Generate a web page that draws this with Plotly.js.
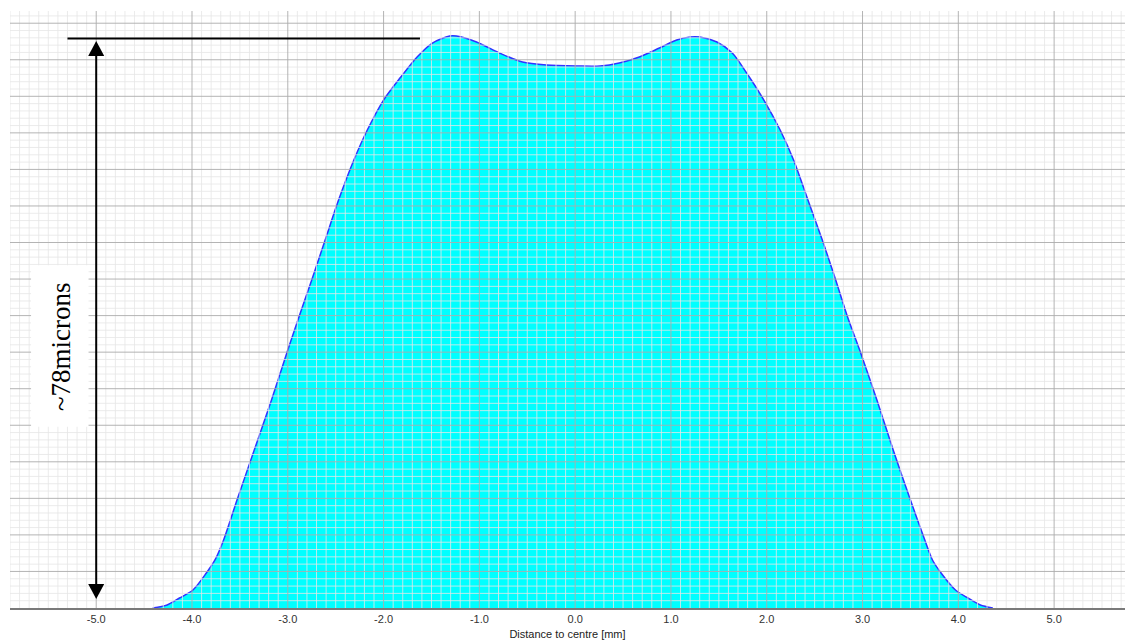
<!DOCTYPE html>
<html>
<head>
<meta charset="utf-8">
<script src="https://cdn.plot.ly/plotly-3.0.1.min.js"></script>
<style>html,body{margin:0;padding:0;background:#fff;}#chart{width:1125px;height:642px;}</style>
</head>
<body>
<div id="chart"></div>
<script>
// Profile data: distance to centre [mm] vs height [microns]
const distance = [-4.41,-4.26,-4.13,-3.99,-3.85,-3.76,-3.67,-3.53,-3.35,-3.17,
  -3.00,-2.88,-2.75,-2.61,-2.47,-2.31,-2.17,-2.00,-1.82,-1.65,
  -1.49,-1.31,-1.24,-1.03,-0.79,-0.55,-0.30,0.02,0.26,0.46,
  0.67,0.88,1.06,1.20,1.30,1.48,1.64,1.79,1.97,2.14,
  2.28,2.43,2.58,2.72,2.84,2.97,3.15,3.32,3.50,3.65,
  3.73,3.82,3.97,4.10,4.23,4.36];
const height = [0,0.41,1.37,2.46,4.79,6.57,9.30,14.77,21.61,28.45,
  35.29,39.95,44.87,50.34,55.81,61.29,65.39,69.49,72.64,75.38,
  77.29,78.25,78.25,77.43,75.92,74.69,74.28,74.15,74.15,74.56,
  75.38,76.61,77.70,78.11,78.11,77.43,75.92,73.19,69.49,65.39,
  61.29,55.81,50.34,44.87,39.95,35.29,28.45,21.61,14.77,9.30,
  6.57,4.79,2.46,1.37,0.41,0];
const tickValues = [-5,-4,-3,-2,-1,0,1,2,3,4,5];
const tickLabels = ["-5.0","-4.0","-3.0","-2.0","-1.0","0.0","1.0","2.0","3.0","4.0","5.0"];
const xTitle = "Distance to centre [mm]";
const heightLabel = "~78microns";

const xMin = -5.9, xMax = 5.74, yMax = 81.67;

// grid drawn above the filled profile, built from axis steps
let minorV = '', majorV = '', minorH = '', majorH = '';
for (let i = -59; i <= 57; i++) {
  const x = (i / 10).toFixed(1);
  if (i % 10 === 0) majorV += `M${x},0L${x},${yMax}`;
  else minorV += `M${x},0L${x},${yMax}`;
}
for (let j = 1; j <= 81; j++) {
  if (j % 5 === 0) majorH += `M${xMin},${j}L${xMax},${j}`;
  else minorH += `M${xMin},${j}L${xMax},${j}`;
}
const minorCol = 'rgba(230,230,230,0.8)';
const majorCol = 'rgba(172,172,172,0.9)';
const gridShape = (p, c) => ({type:'path', xref:'x', yref:'y', path:p, layer:'above', line:{color:c, width:1}});

const peak = 77.9, arrowX = -5.0, topTip = 77.56, botTip = 1.23;

const shapes = [
  gridShape(minorV, minorCol), gridShape(minorH, minorCol),
  gridShape(majorV, majorCol), gridShape(majorH, majorCol),
  {type:'line', xref:'x', yref:'y', x0:-5.30, x1:-1.62, y0:peak, y1:peak, layer:'above', line:{color:'#000', width:2}},
  {type:'line', xref:'x', yref:'y', x0:arrowX, x1:arrowX, y0:botTip+1, y1:topTip-1, layer:'above', line:{color:'#000', width:2}},
  {type:'path', xref:'x', yref:'y', xsizemode:'pixel', ysizemode:'pixel', xanchor:arrowX, yanchor:topTip,
   path:'M0,0L-8,-15L8,-15Z', fillcolor:'#000', line:{width:0}, layer:'above'},
  {type:'path', xref:'x', yref:'y', xsizemode:'pixel', ysizemode:'pixel', xanchor:arrowX, yanchor:botTip,
   path:'M0,0L-8,15L8,15Z', fillcolor:'#000', line:{width:0}, layer:'above'},
  {type:'rect', xref:'x', yref:'y', x0:-5.68, x1:-5.08, y0:24.8, y1:46.9, fillcolor:'#fff', line:{width:0}, layer:'above'}
];

const trace = {
  x: distance, y: height, type:'scatter', mode:'lines',
  line:{color:'rgb(50,50,255)', width:1.5, shape:'spline', smoothing:0.8},
  fill:'tozeroy', fillcolor:'#00ffff', hoverinfo:'skip'
};

const layout = {
  width:1125, height:642,
  margin:{l:10, r:0, t:11, b:34, pad:0},
  paper_bgcolor:'#fff', plot_bgcolor:'#fff',
  showlegend:false,
  font:{family:'Liberation Sans, Arial, sans-serif', size:11, color:'#333'},
  xaxis:{range:[xMin, xMax], showgrid:false, zeroline:false,
    tickmode:'array', tickvals:tickValues, ticktext:tickLabels,
    ticks:'', ticklen:0, tickfont:{size:11, color:'#333'},
    showline:true, linecolor:'#7a7a7a', linewidth:2, layer:'above traces',
    title:{text:xTitle, font:{size:11, color:'#222'}, standoff:6}},
  yaxis:{range:[0, yMax], showgrid:false, zeroline:false, showticklabels:false, ticks:'', showline:false},
  shapes: shapes,
  annotations:[{xref:'x', yref:'y', x:-5.36, y:35.8, text:heightLabel, showarrow:false, textangle:-90,
    font:{family:'Liberation Serif, Times New Roman, serif', size:27, color:'#000'}}]
};

Plotly.newPlot('chart', [trace], layout, {displayModeBar:false, staticPlot:true});
</script>
</body>
</html>
